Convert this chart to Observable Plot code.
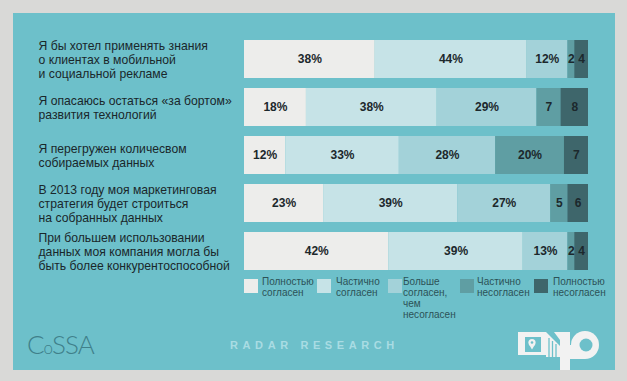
<!DOCTYPE html>
<html>
<head>
<meta charset="utf-8">
<script src="https://cdn.jsdelivr.net/npm/d3@7"></script>
<script src="https://cdn.jsdelivr.net/npm/@observablehq/plot@0.6"></script>
<style>
  html, body { margin: 0; padding: 0; }
  body { width: 627px; height: 381px; overflow: hidden; background: #d9d9d7; font-family: "Liberation Sans", Arial, sans-serif; }
  #wrap { position: relative; width: 627px; height: 381px; }
  #panel { position: absolute; left: 13px; top: 13px; width: 602px; height: 357px; background: #6dc0ca; }
  #chart { position: absolute; left: 0; top: 0; }
  .lg-box { position: absolute; top: 279px; width: 14px; height: 14px; }
  .lg-txt { position: absolute; top: 276px; font-size: 10px; line-height: 11px; color: #2c5257; }
  #radar { position: absolute; left: 230px; top: 339px; font-size: 11px; font-weight: bold; letter-spacing: 4.6px; color: #a9dce3; }
  #cossa { position: absolute; left: 27px; top: 328px; font-family: Lato, "DejaVu Sans", sans-serif; font-weight: 300; font-size: 26px; color: #40808a; letter-spacing: -1px; }
  #logo { position: absolute; left: 515px; top: 330px; }
</style>
</head>
<body>
<div id="wrap">
  <div id="panel"></div>
  <div id="chart"></div>
  <div id="legend"></div>
  <div id="cossa">C<span style="font-size:17px">o</span>SSA</div>
  <div id="radar">RADAR RESEARCH</div>
  <svg id="logo" width="92" height="42" viewBox="0 0 92 42">
    <rect x="3" y="2" width="28" height="23" fill="#f2f2f2"/>
    <rect x="10" y="7" width="16" height="15" fill="#6dc0ca"/>
    <circle cx="17" cy="12.5" r="3.6" fill="#f2f2f2"/>
    <path d="M13.8 14.2 L17 19.5 L20.2 14.2 Z" fill="#f2f2f2"/>
    <circle cx="17" cy="12.5" r="1.3" fill="#6dc0ca"/>
    <path d="M31 2 L45 16 L45 27 L31 27 Z" fill="#f2f2f2"/>
    <path d="M34 8 L34 27 M37.5 11 L37.5 27 M41 14 L41 27" stroke="#6dc0ca" stroke-width="1.3"/>
    <path d="M39 2 L55 2 L55 40 L45 40 L45 10 Z" fill="#f2f2f2"/>
    <circle cx="70" cy="15" r="14" fill="#f2f2f2"/>
    <rect x="55" y="15" width="15" height="14" fill="#f2f2f2"/>
    <circle cx="71" cy="15" r="6.5" fill="#6dc0ca"/>
  </svg>
</div>
<script>
const questions = [
  "Я бы хотел применять знания\nо клиентах в мобильной\nи социальной рекламе",
  "Я опасаюсь остаться «за бортом»\nразвития технологий",
  "Я перегружен количесвом\nсобираемых данных",
  "В 2013 году моя маркетинговая\nстратегия будет строиться\nна собранных данных",
  "При большем использовании\nданных моя компания могла бы\nбыть более конкурентоспособной"
];
const categories = [
  "Полностью\nсогласен",
  "Частично\nсогласен",
  "Больше\nсогласен,\nчем\nнесогласен",
  "Частично\nнесогласен",
  "Полностью\nнесогласен"
];
const fullyAgree     = [38, 18, 12, 23, 42];
const partlyAgree    = [44, 38, 33, 39, 39];
const moreAgree      = [12, 29, 28, 27, 13];
const partlyDisagree = [2, 7, 20, 5, 2];
const fullyDisagree  = [4, 8, 7, 6, 4];
const colors = ["#ededeb", "#c6e3e7", "#a3d2d9", "#5f9ea3", "#3e666b"];

const series = [fullyAgree, partlyAgree, moreAgree, partlyDisagree, fullyDisagree];
const data = [];
questions.forEach((q, i) => {
  series.forEach((s, j) => {
    const v = s[i];
    data.push({q, cat: categories[j], value: v, label: v >= 10 ? v + "%" : String(v)});
  });
});

const chart = Plot.plot({
  width: 627,
  height: 285,
  marginLeft: 244,
  marginRight: 39,
  marginTop: 29,
  marginBottom: 5,
  style: {background: "transparent", fontFamily: "'Liberation Sans', Arial, sans-serif"},
  x: {domain: [0, 100], axis: null},
  y: {domain: questions, axis: null, padding: 0.21},
  color: {domain: categories, range: colors},
  marks: [
    Plot.barX(data, {x: "value", y: "q", fill: "cat"}),
    Plot.text(data, Plot.stackX({x: "value", y: "q", z: "cat", text: "label",
      fill: "#1c282c", fontSize: 12, fontWeight: "bold"})),
    Plot.text(questions, {y: d => d, text: d => d, frameAnchor: "left", textAnchor: "start",
      dx: -206, fontSize: 12.2, lineHeight: 1.15, fill: "#1a272b"})
  ]
});
document.getElementById("chart").appendChild(chart);

const legend = document.getElementById("legend");
const boxX = [244, 317, 388, 460, 534];
const txtX = [262, 336, 403, 477, 553];
categories.forEach((c, i) => {
  const b = document.createElement("div");
  b.className = "lg-box";
  b.style.left = boxX[i] + "px";
  b.style.background = colors[i];
  legend.appendChild(b);
  const t = document.createElement("div");
  t.className = "lg-txt";
  t.style.left = txtX[i] + "px";
  t.innerHTML = c.split("\n").join("<br>");
  legend.appendChild(t);
});
</script>
</body>
</html>
